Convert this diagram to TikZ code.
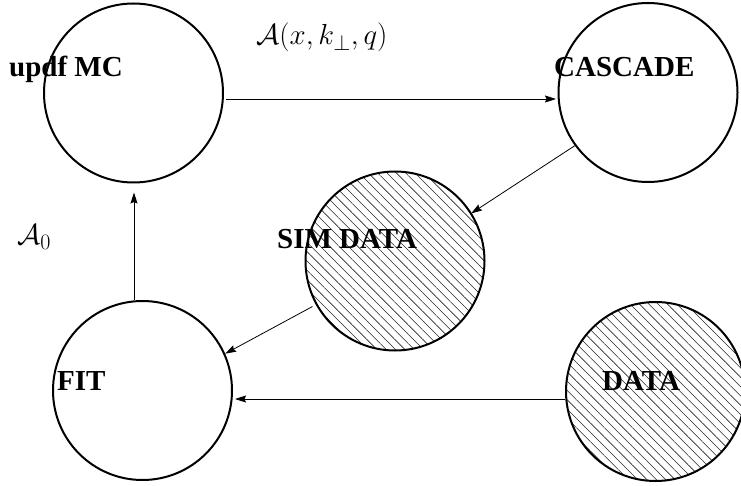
\documentclass[tikz,border=0pt]{standalone}
\usepackage{fix-cm}
\usepackage{fontspec}
\newfontfamily\lblfont{Liberation Serif}
\DeclareMathSizes{29}{29}{22}{17}
\usetikzlibrary{arrows.meta,patterns.meta}
\begin{document}
\begin{tikzpicture}[x=1pt,y=-1pt,
  bubble/.style={circle,draw,line width=2pt,minimum size=179pt,inner sep=0pt},
  hatched/.style={bubble,pattern={Lines[angle=-45,distance=6.6pt,line width=0.55pt]},pattern color=black!85},
  lbl/.style={anchor=base west,inner sep=0pt,font=\lblfont\bfseries\fontsize{29}{34}\selectfont},
  mathlbl/.style={anchor=base west,inner sep=0pt,font=\fontsize{29}{34}\selectfont},
  arr/.style={line width=0.8pt,-{Stealth[length=11pt,width=7pt,inset=1.5pt]}}]
\useasboundingbox (0,0) rectangle (741,486);
\node[bubble]  (upd) at (133.5,93) {};
\node[bubble]  (cas) at (648,92.5) {};
\node[hatched] (sim) at (395,261) {};
\node[bubble]  (fit) at (142.5,390.5) {};
\node[hatched] (dat) at (655.5,391.5) {};
\node[lbl] (tupd) at (9,77) {updf MC};
\node[lbl] (tcas) at (554,77) {CASCADE};
\node[lbl] (tsim) at (277,249) {SIM DATA};
\node[lbl] (tfit) at (57,390) {FIT};
\node[lbl] (tdat) at (602,390) {DATA};
\node[mathlbl] (la) at (256,45) {$\mathcal{A}(x,k_\perp,q)$};
\node[mathlbl] (lz) at (17,245) {$\mathcal{A}_0$};
\draw[arr] ([shift={(2,6)}]upd.east) -- ([shift={(-1.5,6.5)}]cas.west);
\draw[arr] (cas.216) -- (sim.32);
\draw[arr] ([shift={(-4,2)}]sim.209) -- (fit.24.5);
\draw[arr] ([shift={(0,7.5)}]dat.west) -- ([shift={(2,8.5)}]fit.east);
\draw[arr] ([shift={(-8.5,0)}]fit.north) -- ([shift={(0.5,9)}]upd.south);
\end{tikzpicture}
\end{document}
